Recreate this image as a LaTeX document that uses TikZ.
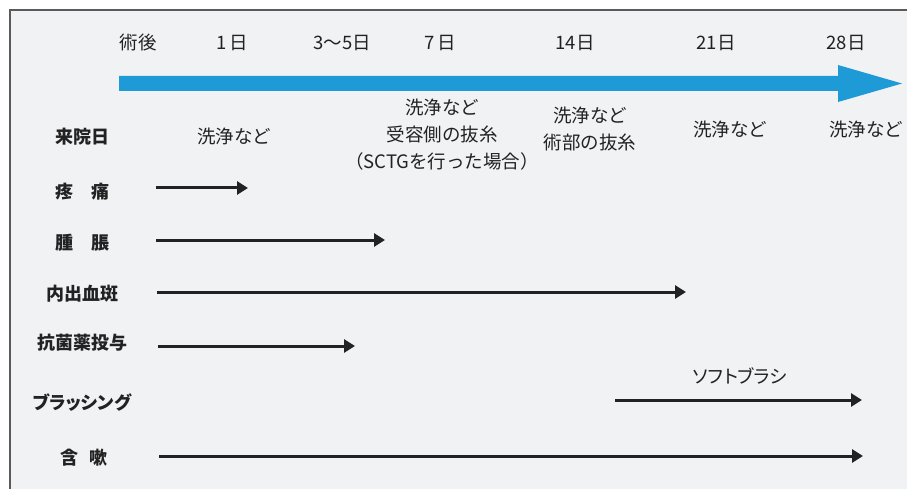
\documentclass[tikz,border=0pt]{standalone}
\usepackage{fontspec}
\setmainfont{Noto Sans CJK JP}
\newfontfamily\paltfont[RawFeature=+palt]{Noto Sans CJK JP}
\usetikzlibrary{arrows.meta}
\definecolor{bgray}{HTML}{F1F2F4}
\definecolor{frameline}{HTML}{5A5A5A}
\definecolor{timeblue}{HTML}{1E9AD6}
\definecolor{ink}{HTML}{222222}
\tikzset{
  hdr/.style={font=\fontsize{18.5}{21}\selectfont, text=ink, inner sep=0pt, anchor=center},
  rowlab/.style={font=\fontsize{18}{21}\selectfont\bfseries, text=ink, inner sep=0pt, anchor=center},
  note/.style={font=\fontsize{18.5}{27}\selectfont, text=ink, inner sep=0pt, anchor=center, align=center},
  period/.style={draw=ink, line width=3pt, -{Triangle[length=11pt,width=13pt]}},
}
\begin{document}
\begin{tikzpicture}[x=1pt,y=-1pt]
\useasboundingbox (0,0) rectangle (907,489);
\fill[white] (0,0) rectangle (907,489);
\fill[bgray] (10,10) rectangle (907,489);
\draw[frameline, line width=1.2pt] (10,489) -- (10,10) -- (907,10);
% timeline arrow
\fill[timeblue] (119,76) -- (838,76) -- (838,65) -- (902,83.5) -- (838,102) -- (838,91) -- (119,91) -- cycle;
% header
\node[hdr] (d0) at (138,43) {術後};
\node[hdr] (d1) at (232,43) {1\,日};
\node[hdr] (d35) at (342,43) {3〜5日};
\node[hdr] (d7) at (440,43) {7\,日};
\node[hdr] (d14) at (575,43) {14日};
\node[hdr] (d21) at (716,43) {21日};
\node[hdr] (d28) at (846,43) {28日};
% visit row
\node[rowlab] (visit) at (82,137) {来院日};
\node[hdr] (v1) at (234,136) {洗浄など};
\node[note] (v7) at (442,135) {洗浄など\\受容側の抜糸\\（SCTGを行った場合）};
\node[note] (v14) at (590,129) {洗浄など\\術部の抜糸};
\node[hdr] (v21) at (730,129) {洗浄など};
\node[hdr] (v28) at (866,129) {洗浄など};
% rows
\node[rowlab] (pain) at (82,192) {疼　痛};
\node[rowlab] (swell) at (82,243) {腫　脹};
\node[rowlab] (bruise) at (82,294) {内出血斑};
\node[rowlab] (anti) at (82,343) {抗菌薬投与};
\node[rowlab] (brush) at (82,403) {\paltfont\bfseries ブラッシング};
\node[rowlab] (rinse) at (84,458) {含\hspace{0.6em}嗽};
\node[hdr] (soft) at (740,376) {\paltfont ソフトブラシ};
% arrow end points
\coordinate (pa) at (156,188); \coordinate (pb) at (248,188);
\coordinate (sa) at (156,240); \coordinate (sb) at (385,240);
\coordinate (ba) at (157,292); \coordinate (bb) at (686,292);
\coordinate (aa) at (158,346); \coordinate (ab) at (355,346);
\coordinate (ra) at (615,400); \coordinate (rb) at (862,400);
\coordinate (na) at (159,456); \coordinate (nb) at (863,456);
\draw[period] (pa) -- (pb);
\draw[period] (sa) -- (sb);
\draw[period] (ba) -- (bb);
\draw[period] (aa) -- (ab);
\draw[period] (ra) -- (rb);
\draw[period] (na) -- (nb);
\end{tikzpicture}
\end{document}
